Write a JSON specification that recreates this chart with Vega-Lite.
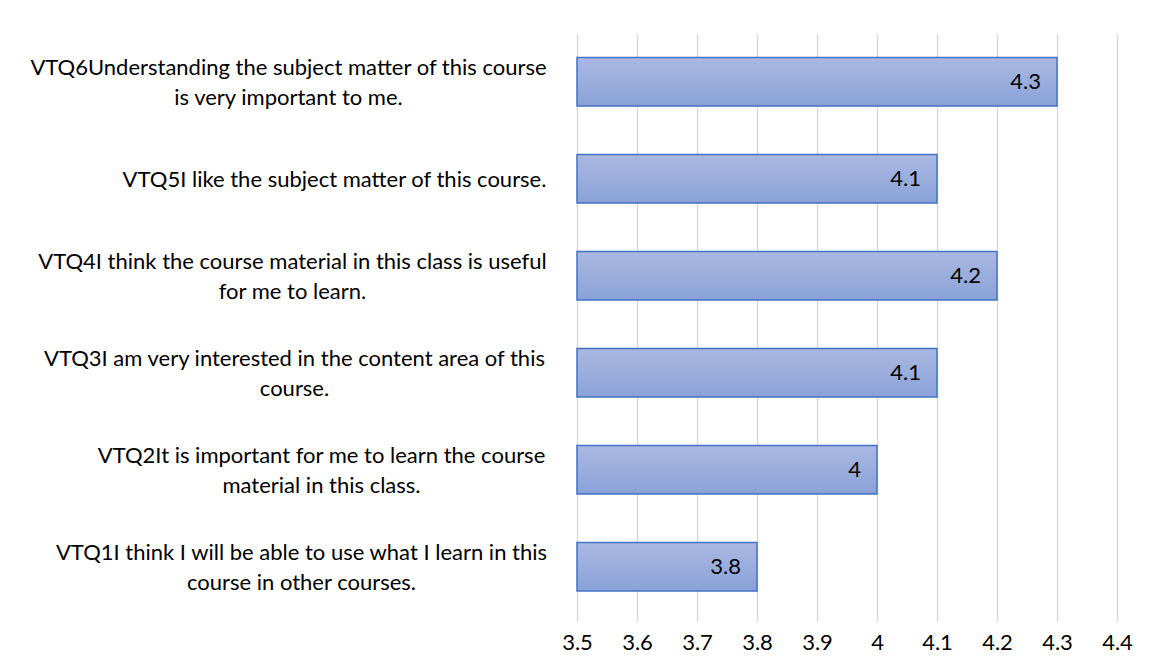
{
  "$schema": "https://vega.github.io/schema/vega-lite/v6.json",
  "width": 540,
  "height": 587,
  "autosize": {"type": "none"},
  "padding": {"left": 577, "top": 34, "right": 38, "bottom": 49},
  "background": "white",
  "config": {"view": {"stroke": null}, "font": "Lato"},
  "data": {
    "values": [
      {"q": "VTQ6Understanding the subject matter of this course\nis very important to me.", "v": 4.3},
      {"q": "VTQ5I like the subject matter of this course.", "v": 4.1},
      {"q": "VTQ4I think the course material in this class is useful\nfor me to learn.", "v": 4.2},
      {"q": "VTQ3I am very interested in the content area of this\ncourse.", "v": 4.1},
      {"q": "VTQ2It is important for me to learn the course\nmaterial in this class.", "v": 4.0},
      {"q": "VTQ1I think I will be able to use what I learn in this\ncourse in other courses.", "v": 3.8}
    ]
  },
  "encoding": {
    "y": {
      "field": "q",
      "type": "nominal",
      "sort": null,
      "scale": {"paddingInner": 0.5, "paddingOuter": 0.276, "align": 0.44},
      "axis": {
        "title": null,
        "domain": false,
        "ticks": false,
        "tickSize": 0,
        "grid": false,
        "labelPadding": {
          "condition": [
            {"test": "substring(datum.value, 0, 4) == 'VTQ6'", "value": 289},
            {"test": "substring(datum.value, 0, 4) == 'VTQ5'", "value": 243},
            {"test": "substring(datum.value, 0, 4) == 'VTQ4'", "value": 285},
            {"test": "substring(datum.value, 0, 4) == 'VTQ3'", "value": 283},
            {"test": "substring(datum.value, 0, 4) == 'VTQ2'", "value": 256}
          ],
          "value": 276
        },
        "labelOffset": {
          "condition": {"test": "substring(datum.value, 0, 4) == 'VTQ5'", "value": 1},
          "value": -14
        },
        "labelAlign": "center",
        "labelBaseline": "middle",
        "labelFont": "Lato",
        "labelFontSize": 22,
        "labelLineHeight": 30,
        "labelColor": "#000000",
        "labelLimit": 0,
        "labelExpr": "split(datum.label, '\\n')"
      }
    },
    "x": {
      "field": "v",
      "type": "quantitative",
      "scale": {"domain": [3.5, 4.4], "nice": false, "zero": false},
      "axis": {
        "title": null,
        "domain": false,
        "ticks": false,
        "tickSize": 0,
        "values": [3.5, 3.6, 3.7, 3.8, 3.9, 4.0, 4.1, 4.2, 4.3, 4.4],
        "format": ".2~f",
        "grid": true,
        "gridColor": "#d9d9d9",
        "gridWidth": 1.5,
        "labelPadding": 11,
        "labelFont": "Lato",
        "labelFontSize": 22,
        "labelColor": "#000000",
        "labelFlush": false
      }
    }
  },
  "layer": [
    {
      "mark": {
        "type": "bar",
        "stroke": "#4472c4",
        "strokeWidth": 1.5,
        "color": {
          "gradient": "linear",
          "x1": 0, "y1": 0, "x2": 0, "y2": 1,
          "stops": [
            {"offset": 0, "color": "#aab8e1"},
            {"offset": 1, "color": "#8aa2d8"}
          ]
        }
      },
      "encoding": {"x2": {"datum": 3.5}}
    },
    {
      "mark": {"type": "text", "align": "right", "baseline": "middle", "dx": -16, "font": "Lato", "fontSize": 22, "color": "#000000"},
      "encoding": {"text": {"field": "v", "type": "quantitative", "format": ".2~f"}}
    }
  ]
}
